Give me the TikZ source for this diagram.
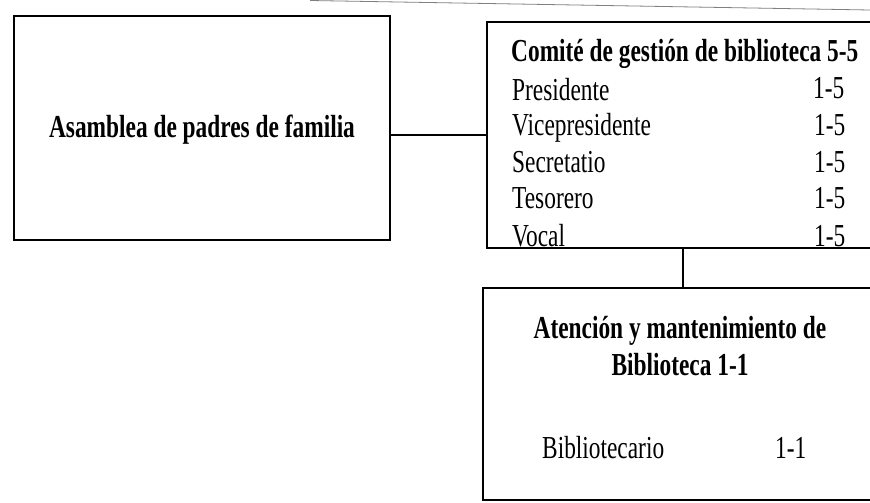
\documentclass[tikz,border=0pt]{standalone}
\usepackage{fontspec}
\setmainfont{Liberation Serif}[FakeStretch=0.73]
\usepackage{tikz}
\usetikzlibrary{positioning}
\tikzset{
	caja/.style={draw, line width=2pt, inner sep=0pt},
	linea/.style={line width=2pt},
	fila/.style={anchor=base west, inner sep=0pt, font=\fontsize{32}{38}\selectfont},
	titulo/.style={fila, font=\fontsize{32}{38}\selectfont\bfseries},
}

\begin{document}
\begin{tikzpicture}[x=1pt,y=-1pt]
	\useasboundingbox (0,0) rectangle (870,503);
	\coordinate (bordeA) at (310,0.5);
	\coordinate (bordeB) at (870,10);
	\draw[gray, line width=0.8pt] (bordeA) -- (bordeB);
	% cajas
	\node[caja, minimum width=376, minimum height=224] (asamblea) at (202,128) {};
	\node[caja, minimum width=392, minimum height=226] (comite) at (683,135) {};
	\node[caja, minimum width=400, minimum height=212] (atencion) at (683,394) {};
	\draw[linea] (asamblea.east |- comite.west) -- (comite.west);
	\draw[linea] (comite.south) -- (atencion.north);
	% textos
	\node[titulo, anchor=base] (asambleatxt) at (202,137) {Asamblea de padres de familia};
	\node[titulo] (comitetxt) at (511,62) {Comité de gestión de biblioteca 5-5};
	\node[fila] (presidente) at (512,100) {Presidente};
	\node[fila] (vicepresidente) at (512,135) {Vicepresidente};
	\node[fila] (secretario) at (512,172) {Secretatio};
	\node[fila] (tesorero) at (512,208) {Tesorero};
	\node[fila] (vocal) at (512,246) {Vocal};
	\node[fila] (npresidente) at (813,99) {1-5};
	\node[fila] (nvicepresidente) at (814,135) {1-5};
	\node[fila] (nsecretario) at (814,172) {1-5};
	\node[fila] (ntesorero) at (814,208) {1-5};
	\node[fila] (nvocal) at (814,246) {1-5};
	\node[titulo, anchor=base] (atenciontxt) at (680,338) {Atención y mantenimiento de};
	\node[titulo, anchor=base] (bibliotecatxt) at (680,375) {Biblioteca 1-1};
	\node[fila] (bibliotecario) at (542,458) {Bibliotecario};
	\node[fila] (nbibliotecario) at (775,458) {1-1};
\end{tikzpicture}
\end{document}
